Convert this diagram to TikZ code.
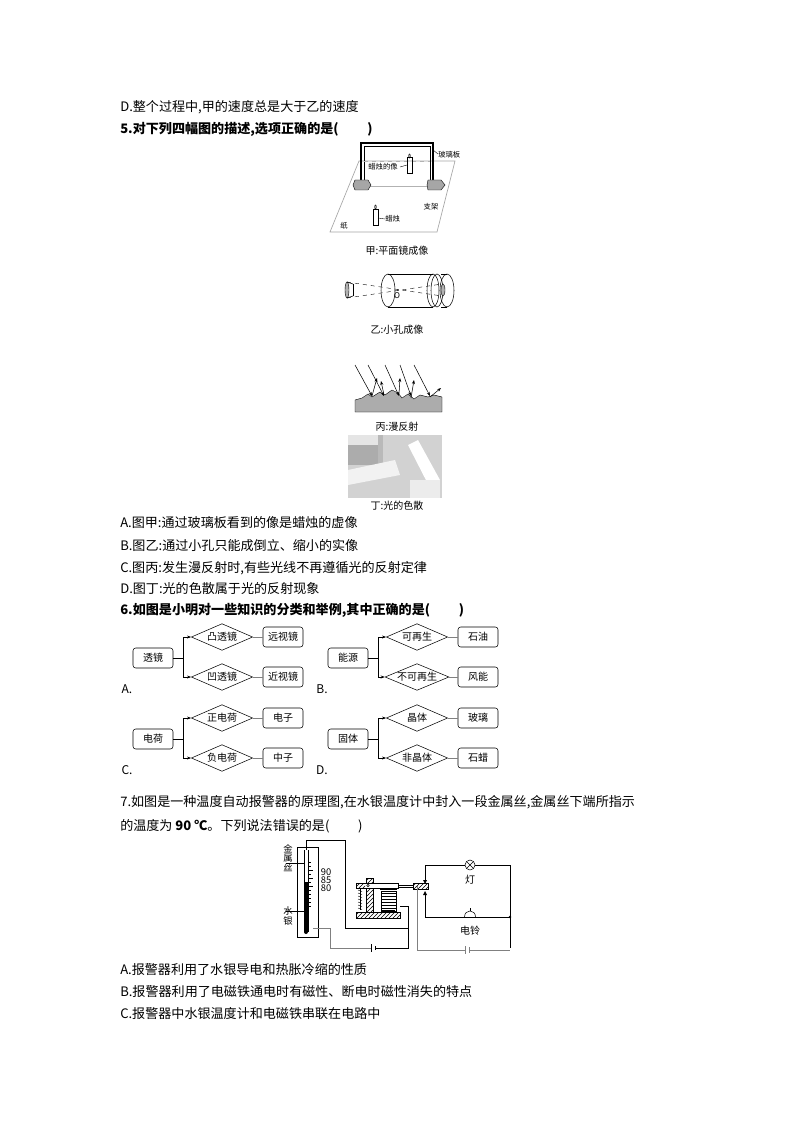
\documentclass[tikz,border=0pt]{standalone}
\usepackage{fontspec}
\setmainfont{Noto Sans CJK SC}
\newfontfamily\serifcjk{Noto Sans CJK SC}
\usetikzlibrary{shapes.geometric,patterns,arrows.meta}
\begin{document}
\begin{tikzpicture}[x=0.75pt,y=-0.75pt,
  txt/.style={anchor=west,inner sep=0pt,font=\fontsize{9.8pt}{10pt}\selectfont},
  btxt/.style={txt,font=\fontsize{9.8pt}{10pt}\selectfont\bfseries},
  cbox/.style={draw,rounded corners=2pt,minimum width=30pt,minimum height=15pt,inner sep=1pt,font=\fontsize{7.5pt}{8pt}\selectfont},
  dia/.style={draw,diamond,aspect=2.6,minimum width=46pt,minimum height=20pt,inner sep=0pt,font=\fontsize{7.5pt}{8pt}\selectfont},
  lab/.style={inner sep=0pt,font=\fontsize{5.5pt}{6pt}\selectfont},
  captxt/.style={inner sep=0pt,font=\fontsize{7.5pt}{8pt}\selectfont},
  wire/.style={line width=0.6pt},
  gwire/.style={line width=0.6pt,gray}]
\useasboundingbox (0,0) rectangle (794,1123);
\fill[white] (0,0) rectangle (794,1123);
% text lines
\node[txt] (t1) at (120,107) {D.整个过程中,甲的速度总是大于乙的速度};
\node[btxt] (t2) at (120,129) {5.对下列四幅图的描述,选项正确的是(\hspace{2.2em})};
\node[txt] (t3) at (120,523) {A.图甲:通过玻璃板看到的像是蜡烛的虚像};
\node[txt] (t4) at (120,546) {B.图乙:通过小孔只能成倒立、缩小的实像};
\node[txt] (t5) at (120,568) {C.图丙:发生漫反射时,有些光线不再遵循光的反射定律};
\node[txt] (t6) at (120,589) {D.图丁:光的色散属于光的反射现象};
\node[btxt] (t7) at (120,610) {6.如图是小明对一些知识的分类和举例,其中正确的是(\hspace{2.2em})};
\node[txt] (t8) at (120,802) {7.如图是一种温度自动报警器的原理图,在水银温度计中封入一段金属丝,金属丝下端所指示};
\node[txt] (t9) at (120,826) {的温度为 \textbf{90 ℃}。下列说法错误的是(\hspace{2.2em})};
\node[txt] (t10) at (120,970) {A.报警器利用了水银导电和热胀冷缩的性质};
\node[txt] (t11) at (120,992) {B.报警器利用了电磁铁通电时有磁性、断电时磁性消失的特点};
\node[txt] (t12) at (120,1014) {C.报警器中水银温度计和电磁铁串联在电路中};
% classification diagrams
\foreach \dx/\dy/\r/\a/\b/\c/\d/\L in {0/0/透镜/凸透镜/远视镜/凹透镜/近视镜/A.,195/0/能源/可再生/石油/不可再生/风能/B.,0/81/电荷/正电荷/电子/负电荷/中子/C.,195/81/固体/晶体/玻璃/非晶体/石蜡/D.}{
  \node[cbox] (r) at (153+\dx,658+\dy) {\r};
  \node[dia] (da) at (222+\dx,637+\dy) {\a};
  \node[dia] (db) at (222+\dx,677+\dy) {\c};
  \node[cbox] (ba) at (283+\dx,637+\dy) {\b};
  \node[cbox] (bb) at (283+\dx,677+\dy) {\d};
  \draw (r.east) -- (183+\dx,658+\dy) coordinate (j);
  \draw (183+\dx,637+\dy) -- (183+\dx,677+\dy);
  \draw[-{Stealth[length=3pt]}] (183+\dx,637+\dy) -- (da.west);
  \draw[-{Stealth[length=3pt]}] (183+\dx,677+\dy) -- (db.west);
  \draw[gray] (da.east) -- (ba.west);
  \draw[gray] (db.east) -- (bb.west);
  \node[inner sep=0pt,font=\serifcjk\fontsize{9pt}{9pt}\selectfont] at (127+\dx,689+\dy) {\L};
}
% ---- 甲 plane mirror
\draw[gray!70,line width=0.5pt] (359,161) -- (455,161) -- (437,232) -- (330,232) -- cycle;
\draw[line width=0.8pt] (361,180) -- (361,143) -- (433,143) -- (433,182);
\draw[line width=0.5pt] (364,180) -- (364,146) -- (430,146) -- (430,182);
\draw[gray!60] (370,186) -- (427,186);
\draw[gray!60,dashed] (364,161) -- (430,161);
\fill[gray!70,draw=black,line width=0.3pt] (355,180) -- (368,180) -- (371,185) -- (368,190) -- (355,190) -- (353,185) -- cycle;
\fill[gray!70,draw=black,line width=0.3pt] (428,180) -- (441,180) -- (445,185) -- (441,190) -- (428,190) -- (427,185) -- cycle;
\draw[line width=0.3pt] (407,157) rectangle (412,173); \draw (409.5,156) ellipse (0.8 and 2);
\draw[line width=0.3pt] (373,209) rectangle (378,225); \draw (375.5,207) ellipse (0.8 and 2);
\draw[line width=0.3pt] (400,167) -- (407,165); \draw[line width=0.3pt] (378,218) -- (385,219);
\draw[line width=0.3pt] (433,150) -- (438,154);
\node[lab,anchor=west] at (438,155) {玻璃板};
\node[lab] at (383,167) {蜡烛的像};
\node[lab] at (431,207) {支架};
\node[lab,anchor=west] at (385,219) {蜡烛};
\node[lab] at (344,226) {纸};
\node[captxt] at (397,251) {甲:平面镜成像};
% ---- 乙 pinhole
\draw (388,274) -- (433,274); \draw (388,307) -- (433,307);
\draw (441,274) -- (447,274) ; \draw (441,307)--(447,307);
\draw (388,290.5) ellipse (7 and 16.5);
\draw (447,290.5) ellipse (7 and 16.5);
\draw (433,290.5) ellipse (6 and 16.5);
\draw (437,290.5) ellipse (6 and 16.5);
\fill[gray!60,draw=black,line width=0.3pt] (443,290) ellipse (2 and 6);
\fill[gray!60,draw=black,line width=0.3pt] (347,290) ellipse (2 and 8);
\draw (347,282) -- (353,284); \draw (347,298) -- (353,296); \draw (353,284) -- (353,296);
\draw[dashed,line width=0.3pt] (347,282) -- (442,296); \draw[dashed,line width=0.3pt] (347,298) -- (442,284);
\fill (398,290) circle (0.8);
\node[lab,font=\itshape\fontsize{6pt}{6pt}\selectfont] at (397,296) {O};
\node[captxt] at (397,330) {乙:小孔成像};
% ---- 丙 diffuse reflection
\fill[gray!65,draw=black,line width=0.3pt] (355,412) -- (355,400) -- (362,398) -- (368,394) -- (372,397) -- (380,392) -- (385,395) -- (392,390) -- (398,393) -- (402,398) -- (408,394) -- (414,399) -- (420,395) -- (428,397) -- (434,395) -- (442,397) -- (442,412) -- cycle;
\foreach \xa/\xb in {355/372,368/384,385/399,400/411,414/430}{\draw[-{Stealth[length=3pt]},line width=0.4pt] (\xa,365) -- (\xb,396);}
\draw[-{Stealth[length=3pt]},line width=0.4pt] (372,396) -- (377,378);
\draw[-{Stealth[length=3pt]},line width=0.4pt] (384,395) -- (381,381);
\draw[-{Stealth[length=3pt]},line width=0.4pt] (399,394) -- (400,378);
\draw[-{Stealth[length=3pt]},line width=0.4pt] (411,398) -- (414,380);
\draw[-{Stealth[length=3pt]},line width=0.4pt] (430,397) -- (441,388);
\node[captxt] at (397,427) {丙:漫反射};
% ---- 丁 dispersion photo
\fill[gray!35] (348,435) rectangle (442,498);
\fill[gray!65] (348,435) rectangle (378,465);
\fill[gray!20] (348,435) rectangle (378,445);
\fill[gray!55] (378,435) rectangle (383,475);
\fill[white!90!gray] (348,470) -- (395,460) -- (400,475) -- (348,485) -- cycle;
\fill[white] (408,445) -- (418,440) -- (440,480) -- (430,488) -- cycle;
\fill[gray!15] (410,480) rectangle (440,498);
\node[captxt] at (397,506) {丁:光的色散};
% ---- circuit
\draw[line width=0.5pt] (297,847) rectangle (318,937);
\draw[line width=0.5pt] (304,850) -- (304,932); \draw[line width=0.5pt] (308,850) -- (308,932);
\fill (304,882) rectangle (308,932);
\fill (306,932) circle (2);
\foreach \yy in {862,866,870,874,878,882,886,890,894,898,902,906}{\draw[line width=0.3pt] (308,\yy) -- (311,\yy);}
\foreach \yy in {870,878,886}{\draw[line width=0.3pt] (308,\yy) -- (313,\yy);}
\draw[line width=0.4pt] (286,863) -- (305,863);
\draw[line width=0.4pt] (286,911) -- (304,911);
\node[lab,font=\fontsize{7pt}{7pt}\selectfont,align=center] at (288,858) {金\\属\\丝};
\node[lab,font=\fontsize{7pt}{7pt}\selectfont,align=center] at (288,916) {水\\银};
\node[lab,font=\serifcjk\fontsize{7pt}{7pt}\selectfont,align=left] at (326,880) {90\\[-1pt]85\\[-1pt]80};
% wires
\draw[wire] (306,850) -- (306,840) -- (345,840) -- (345,928) -- (408,928) -- (408,906) -- (400,906);
\draw[gray] (313,928) -- (330,928) -- (330,948) -- (371,948);
\draw[wire] (376,948) -- (408,948) -- (408,910);
\draw[wire] (371,944) -- (371,952); \draw[wire] (375,946) -- (375,950);
% electromagnet
\fill[pattern=north east lines] (356,912) rectangle (400,918); \draw (356,912) rectangle (400,918);
\fill[white] (366,878) rectangle (373,912);
\fill[pattern=north east lines] (366,878) rectangle (373,912); \draw (366,878) rectangle (373,912);
\fill[white] (356,883) rectangle (398,888);
\fill[pattern=north east lines] (356,883) rectangle (365,888);
\draw (356,883) rectangle (398,888);
\draw (368,885.5) circle (1.2);
\draw (398,885.5) -- (413,885.5); \draw (398,887) -- (413,887);
\fill[white] (413,883) rectangle (428,889);
\fill[pattern=north east lines] (413,883) rectangle (428,889); \draw (413,883) rectangle (428,889);
\draw[line width=0.3pt] (360,889) -- (360,910);
\foreach \yy in {890,893,...,908}{\draw[line width=0.3pt] (358,\yy) -- (362,\yy+1.5);}
\draw (381,891) rectangle (396,911);
\foreach \yy in {893,896,...,909}{\draw[line width=0.4pt] (381,\yy) -- (396,\yy);}
\fill (380,888.5) rectangle (397,890);
\fill (382,910) rectangle (395,912);
% right circuit
\draw[gwire] (417,886) -- (417,950) -- (465,950);
\draw[gwire] (469,950) -- (510,950);
\draw[gwire] (465,946) -- (465,954); \draw[gwire] (469,947) -- (469,953);
\draw[wire] (425,882) -- (425,865) -- (465,865);
\draw[wire] (475,865) -- (510,865) -- (510,948);
\draw (470,865) circle (5);
\draw (466.5,861.5) -- (473.5,868.5); \draw (473.5,861.5) -- (466.5,868.5);
\fill (423,880) -- (427,880) -- (425,884) -- cycle;
\fill (423,895) -- (427,895) -- (425,891) -- cycle;
\draw[wire] (425,895) -- (425,917) -- (465,917);
\draw[wire] (475,917) -- (510,917);
\fill (510,917) circle (1.3);
\draw[line width=0.6pt] (463,917) -- (477,917);
\draw (464.5,917) .. controls (464.5,909) and (475.5,909) .. (475.5,917);
\draw (470,911) -- (470,908);
\node[captxt] at (470,880) {灯};
\node[captxt] at (470,931) {电铃};
\end{tikzpicture}
\end{document}
